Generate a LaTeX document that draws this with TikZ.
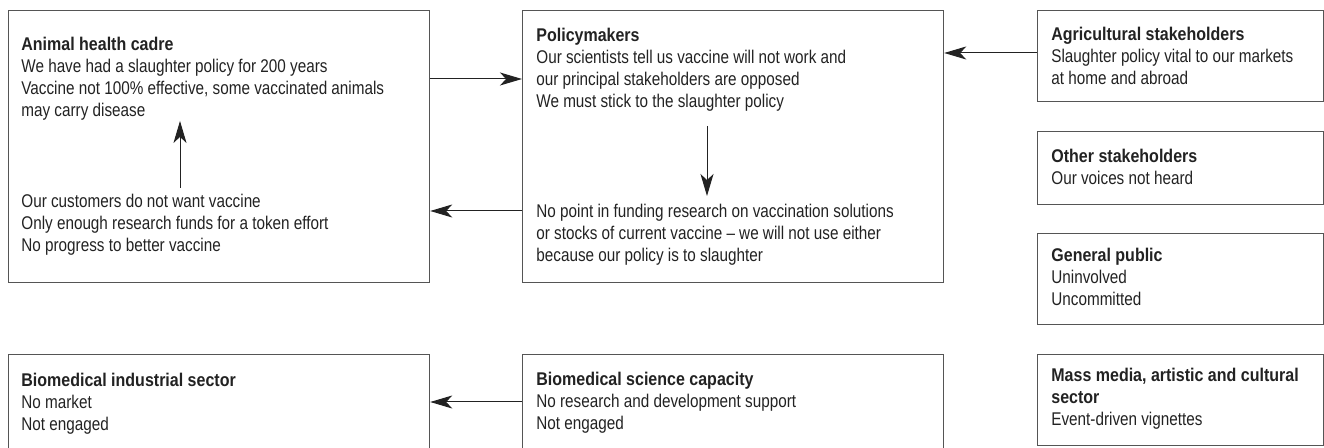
\documentclass[tikz,border=0pt]{standalone}
\usepackage{fontspec}
\setmainfont{Liberation Sans}[FakeStretch=0.83,BoldFeatures={FakeStretch=0.87}]
\usetikzlibrary{arrows.meta}

\definecolor{boxgrey}{HTML}{555555}
\definecolor{inkgrey}{HTML}{222222}

\begin{document}
\begin{tikzpicture}[x=0.5pt,y=-0.5pt,>={Stealth[length=11pt,width=6.5pt,inset=3pt]},
    box/.style={draw=boxgrey,line width=0.6pt,rectangle,inner sep=0pt,anchor=north west},
    txt/.style={inner sep=0pt,anchor=north west,align=left,text=inkgrey,font=\fontsize{9.2}{11}\selectfont},
    arr/.style={->,line width=0.5pt,draw=inkgrey}]

            \useasboundingbox (0,0) rectangle (1324,448);

            % frames
            \node[box,minimum width=210.5pt,minimum height=136pt] (animal) at (8,10) {};
            \node[box,minimum width=210.5pt,minimum height=136pt] (policy) at (522,10) {};
            \node[box,minimum width=143pt,minimum height=45.5pt] (agri) at (1037,10) {};
            \node[box,minimum width=143pt,minimum height=36.5pt] (other) at (1037,131) {};
            \node[box,minimum width=143pt,minimum height=45.5pt] (public) at (1037,233) {};
            \node[box,minimum width=143pt,minimum height=45.5pt] (media) at (1037,354) {};
            \node[box,minimum width=210.5pt,minimum height=55pt] (bioInd) at (8,354) {};
            \node[box,minimum width=210.5pt,minimum height=55pt] (bioSci) at (522,354) {};

            % texts
            \node[txt] (animalTop) at (21,37) {\textbf{Animal health cadre}\\We have had a slaughter policy for 200 years\\Vaccine not 100\% effective, some vaccinated animals\\may carry disease};
            \node[txt] (animalLow) at (21,194) {Our customers do not want vaccine\\Only enough research funds for a token effort\\No progress to better vaccine};
            \node[txt] (policyTop) at (536,28) {\textbf{Policymakers}\\Our scientists tell us vaccine will not work and\\our principal stakeholders are opposed\\We must stick to the slaughter policy};
            \node[txt] (policyLow) at (536,204) {No point in funding research on vaccination solutions\\or stocks of current vaccine -- we will not use either\\because our policy is to slaughter};
            \node[txt] (agriTxt) at (1051,27) {\textbf{Agricultural stakeholders}\\Slaughter policy vital to our markets\\at home and abroad};
            \node[txt] (otherTxt) at (1051,149) {\textbf{Other stakeholders}\\Our voices not heard};
            \node[txt] (publicTxt) at (1051,248) {\textbf{General public}\\Uninvolved\\Uncommitted};
            \node[txt] (mediaTxt) at (1051,368) {\textbf{Mass media, artistic and cultural}\\\textbf{sector}\\Event-driven vignettes};
            \node[txt] (bioIndTxt) at (21,373) {\textbf{Biomedical industrial sector}\\No market\\Not engaged};
            \node[txt] (bioSciTxt) at (536,372) {\textbf{Biomedical science capacity}\\No research and development support\\Not engaged};

            % arrows
            \draw[arr] (animal.east |- 0,79) -- (policy.west |- 0,79);
            \draw[arr] (policy.west |- 0,211) -- (animal.east |- 0,211);
            \draw[arr] (agri.west |- 0,53) -- (policy.east |- 0,53);
            \draw[arr] (bioSci.west |- 0,402) -- (bioInd.east |- 0,402);
            \draw[arr,shorten <=3pt] (animalLow.north -| 180,0) -- (animalTop.south -| 180,0);
            \draw[arr,shorten <=7pt,shorten >=4pt] (policyTop.south -| 707,0) -- (policyLow.north -| 707,0);

        \end{tikzpicture}
\end{document}
